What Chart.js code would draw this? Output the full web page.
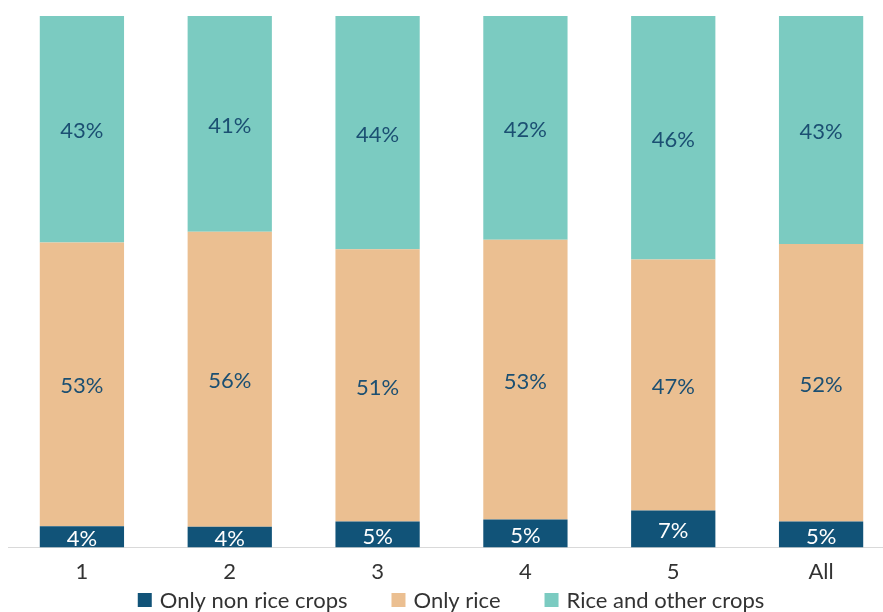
<!DOCTYPE html>
<html>
<head>
<meta charset="utf-8">
<script src="https://cdn.jsdelivr.net/npm/chart.js@4.4.1/dist/chart.umd.min.js"></script>
<style>
html,body{margin:0;padding:0;background:#fff;overflow:hidden;}
#wrap{width:895px;height:612px;position:relative;}
</style>
</head>
<body>
<div id="wrap"><canvas id="c"></canvas></div>
<script>
const categories = ['1', '2', '3', '4', '5', 'All'];
const onlyNonRice = [4.0, 3.9, 4.9, 5.3, 7.0, 4.9];
const onlyRice = [53.4, 55.5, 51.2, 52.6, 47.2, 52.2];
const riceAndOther = [42.6, 40.6, 43.9, 42.1, 45.8, 42.9];
const seriesNames = ['Only non rice crops', 'Only rice', 'Rice and other crops'];

const FONT = 'Lato, "Noto Sans", sans-serif';

const labelPlugin = {
  id: 'segLabels',
  afterDatasetsDraw(chart) {
    const ctx = chart.ctx;
    ctx.save();
    ctx.font = '22px ' + FONT;
    ctx.textAlign = 'center';
    ctx.textBaseline = 'middle';
    chart.data.datasets.forEach((ds, di) => {
      const meta = chart.getDatasetMeta(di);
      meta.data.forEach((bar, i) => {
        const top = Math.min(bar.y, bar.base), bot = Math.max(bar.y, bar.base);
        ctx.fillStyle = di === 0 ? '#ffffff' : '#1b4f72';
        ctx.fillText(Math.round(ds.data[i]) + '%', bar.x, (top + bot) / 2 + 2);
      });
    });
    ctx.restore();
  }
};

// Legend drawn from the datasets (names and colours), centred under the chart
const legendPlugin = {
  id: 'bottomLegend',
  afterDraw(chart) {
    const ctx = chart.ctx;
    ctx.save();
    ctx.font = '22px ' + FONT;
    ctx.textBaseline = 'middle';
    ctx.textAlign = 'left';
    const box = 14, gapBoxText = 8, gapItems = 44;
    const items = chart.data.datasets.map(ds => ({ text: ds.label, color: ds.backgroundColor, w: ctx.measureText(ds.label).width }));
    const total = items.reduce((s, it) => s + box + gapBoxText + it.w, 0) + gapItems * (items.length - 1);
    let x = 451 - total / 2;
    const y = 600;
    items.forEach(it => {
      ctx.fillStyle = it.color;
      ctx.fillRect(x, y - box / 2, box, box);
      x += box + gapBoxText;
      ctx.fillStyle = '#333333';
      ctx.fillText(it.text, x, y + 1);
      x += it.w + gapItems;
    });
    ctx.restore();
  }
};

new Chart(document.getElementById('c'), {
  type: 'bar',
  data: {
    labels: categories,
    datasets: [
      { label: seriesNames[0], data: onlyNonRice, backgroundColor: '#115378' },
      { label: seriesNames[1], data: onlyRice, backgroundColor: '#ebbf91' },
      { label: seriesNames[2], data: riceAndOther, backgroundColor: '#7bcbc1' }
    ]
  },
  options: {
    responsive: true,
    maintainAspectRatio: false,
    animation: false,
    datasets: { bar: { categoryPercentage: 1.0, barPercentage: 0.57, borderWidth: 0 } },
    layout: { padding: { top: 16, left: 8, right: 0, bottom: 16 } },
    scales: {
      x: {
        stacked: true,
        grid: { display: false, drawTicks: false },
        border: { display: true, color: '#d9d9d9', width: 1 },
        ticks: { color: '#333333', font: { size: 22, family: FONT }, padding: 11 }
      },
      y: {
        stacked: true,
        display: false,
        min: 0,
        max: 100
      }
    },
    plugins: {
      legend: { display: false },
      tooltip: { enabled: false }
    }
  },
  plugins: [labelPlugin, legendPlugin]
});
</script>
</body>
</html>
